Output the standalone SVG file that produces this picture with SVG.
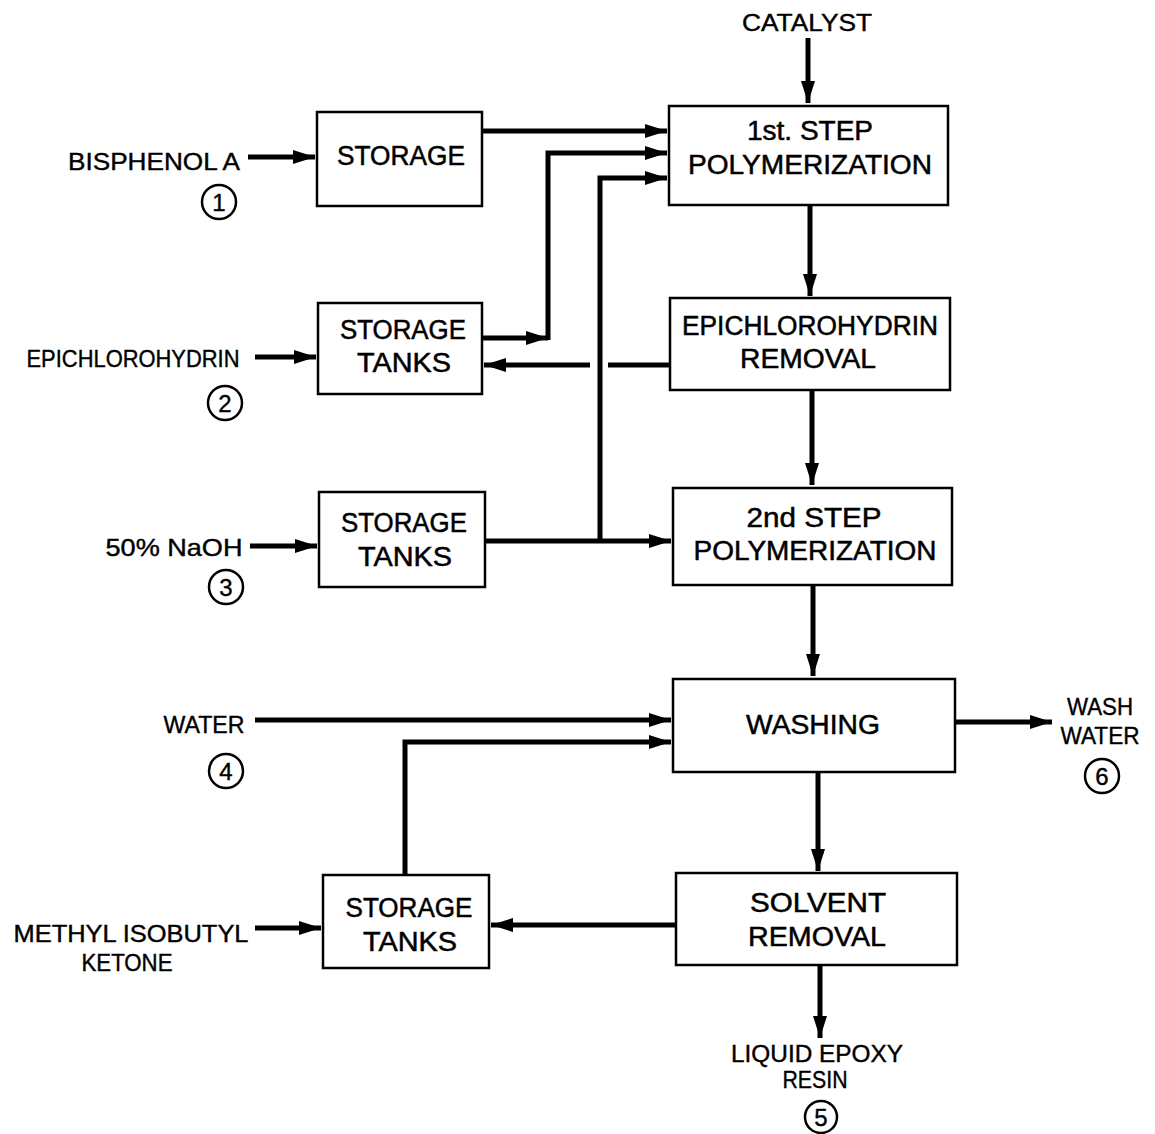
<svg xmlns="http://www.w3.org/2000/svg" width="1155" height="1134" viewBox="0 0 1155 1134">
<style>
.box{fill:#fff;stroke:#000;stroke-width:2.5}
.t{font-family:"Liberation Sans",Arial,sans-serif;font-size:27px;fill:#000;stroke:#000;stroke-width:0.5;text-anchor:middle}
.lbl{font-family:"Liberation Sans",Arial,sans-serif;font-size:24px;fill:#000;stroke:#000;stroke-width:0.4}
.n{font-family:"Liberation Sans",Arial,sans-serif;font-size:24px;fill:#000;stroke:#000;stroke-width:0.4;text-anchor:middle}
.c{fill:none;stroke:#000;stroke-width:5;stroke-linejoin:miter}
.num{fill:none;stroke:#000;stroke-width:2.5}
</style>
<defs>
<marker id="ah" markerUnits="userSpaceOnUse" markerWidth="24" markerHeight="16" refX="22" refY="8" orient="auto">
<path d="M0,1 L22,8 L0,15 Z" fill="#000"/>
</marker>
</defs>
<rect width="1155" height="1134" fill="#fff"/>
<g id="connectors">
<path class="c" d="M808,38 V103" marker-end="url(#ah)"/>
<path class="c" d="M248,157 H315" marker-end="url(#ah)"/>
<path class="c" d="M482,131 H667" marker-end="url(#ah)"/>
<path class="c" d="M255,357 H316" marker-end="url(#ah)"/>
<path class="c" d="M482,338 H548" marker-end="url(#ah)"/>
<path class="c" d="M548,340 V153 H667" marker-end="url(#ah)"/>
<path class="c" d="M600,541 V178 H667" marker-end="url(#ah)"/>
<path class="c" d="M670,365 H608"/>
<path class="c" d="M590,365 H484" marker-end="url(#ah)"/>
<path class="c" d="M250,546 H317" marker-end="url(#ah)"/>
<path class="c" d="M485,541 H671" marker-end="url(#ah)"/>
<path class="c" d="M810,205 V296" marker-end="url(#ah)"/>
<path class="c" d="M812,390 V485" marker-end="url(#ah)"/>
<path class="c" d="M813,585 V676" marker-end="url(#ah)"/>
<path class="c" d="M255,720 H671" marker-end="url(#ah)"/>
<path class="c" d="M405,875 V742 H671" marker-end="url(#ah)"/>
<path class="c" d="M955,722 H1052" marker-end="url(#ah)"/>
<path class="c" d="M818,772 V871" marker-end="url(#ah)"/>
<path class="c" d="M676,925 H491" marker-end="url(#ah)"/>
<path class="c" d="M255,928 H321" marker-end="url(#ah)"/>
<path class="c" d="M820,965 V1038" marker-end="url(#ah)"/>
</g>
<g id="storage1"><rect class="box" x="317" y="112" width="165" height="94"/><text class="t" x="401" y="165" textLength="128" lengthAdjust="spacingAndGlyphs">STORAGE</text></g>
<g id="step1"><rect class="box" x="669" y="106" width="279" height="99"/><text class="t" x="810" y="140" textLength="126" lengthAdjust="spacingAndGlyphs">1st.  STEP</text><text class="t" x="810" y="174" textLength="244" lengthAdjust="spacingAndGlyphs">POLYMERIZATION</text></g>
<g id="storage2"><rect class="box" x="318" y="303" width="164" height="91"/><text class="t" x="403" y="339" textLength="126" lengthAdjust="spacingAndGlyphs">STORAGE</text><text class="t" x="404" y="372" textLength="94" lengthAdjust="spacingAndGlyphs">TANKS</text></g>
<g id="epiremoval"><rect class="box" x="670" y="298" width="280" height="92"/><text class="t" x="810" y="335" textLength="256" lengthAdjust="spacingAndGlyphs">EPICHLOROHYDRIN</text><text class="t" x="808" y="368" textLength="136" lengthAdjust="spacingAndGlyphs">REMOVAL</text></g>
<g id="storage3"><rect class="box" x="319" y="492" width="166" height="95"/><text class="t" x="404" y="532" textLength="126" lengthAdjust="spacingAndGlyphs">STORAGE</text><text class="t" x="405" y="566" textLength="94" lengthAdjust="spacingAndGlyphs">TANKS</text></g>
<g id="step2"><rect class="box" x="673" y="488" width="279" height="97"/><text class="t" x="814" y="527" textLength="135" lengthAdjust="spacingAndGlyphs">2nd  STEP</text><text class="t" x="815" y="560" textLength="243" lengthAdjust="spacingAndGlyphs">POLYMERIZATION</text></g>
<g id="washing"><rect class="box" x="673" y="679" width="282" height="93"/><text class="t" x="813" y="734" textLength="134" lengthAdjust="spacingAndGlyphs">WASHING</text></g>
<g id="storage4"><rect class="box" x="323" y="875" width="166" height="93"/><text class="t" x="409" y="917" textLength="127" lengthAdjust="spacingAndGlyphs">STORAGE</text><text class="t" x="410" y="951" textLength="94" lengthAdjust="spacingAndGlyphs">TANKS</text></g>
<g id="solvremoval"><rect class="box" x="676" y="873" width="281" height="92"/><text class="t" x="818" y="912" textLength="136" lengthAdjust="spacingAndGlyphs">SOLVENT</text><text class="t" x="817" y="946" textLength="138" lengthAdjust="spacingAndGlyphs">REMOVAL</text></g>
<g id="labels">
<text class="lbl" x="807" y="31" text-anchor="middle" textLength="130" lengthAdjust="spacingAndGlyphs">CATALYST</text>
<text class="lbl" x="154" y="170" text-anchor="middle" textLength="172" lengthAdjust="spacingAndGlyphs">BISPHENOL  A</text>
<circle class="num" cx="219" cy="202" r="17"/><text class="n" x="219" y="211">1</text>
<text class="lbl" x="133" y="367" text-anchor="middle" textLength="213" lengthAdjust="spacingAndGlyphs">EPICHLOROHYDRIN</text>
<circle class="num" cx="225" cy="403" r="17"/><text class="n" x="225" y="412">2</text>
<text class="lbl" x="174" y="556" text-anchor="middle" textLength="137" lengthAdjust="spacingAndGlyphs">50% NaOH</text>
<circle class="num" cx="226" cy="587" r="17"/><text class="n" x="226" y="596">3</text>
<text class="lbl" x="204" y="733" text-anchor="middle" textLength="81" lengthAdjust="spacingAndGlyphs">WATER</text>
<circle class="num" cx="226" cy="771" r="17"/><text class="n" x="226" y="780">4</text>
<text class="lbl" x="131" y="942" text-anchor="middle" textLength="235" lengthAdjust="spacingAndGlyphs">METHYL  ISOBUTYL</text>
<text class="lbl" x="127" y="971" text-anchor="middle" textLength="91" lengthAdjust="spacingAndGlyphs">KETONE</text>
<text class="lbl" x="1100" y="715" text-anchor="middle" textLength="66" lengthAdjust="spacingAndGlyphs">WASH</text>
<text class="lbl" x="1100" y="744" text-anchor="middle" textLength="79" lengthAdjust="spacingAndGlyphs">WATER</text>
<circle class="num" cx="1102" cy="776" r="17"/><text class="n" x="1102" y="785">6</text>
<text class="lbl" x="817" y="1062" text-anchor="middle" textLength="172" lengthAdjust="spacingAndGlyphs">LIQUID EPOXY</text>
<text class="lbl" x="815" y="1088" text-anchor="middle" textLength="65" lengthAdjust="spacingAndGlyphs">RESIN</text>
<circle class="num" cx="821" cy="1117" r="16"/><text class="n" x="821" y="1126">5</text>
</g>
</svg>
